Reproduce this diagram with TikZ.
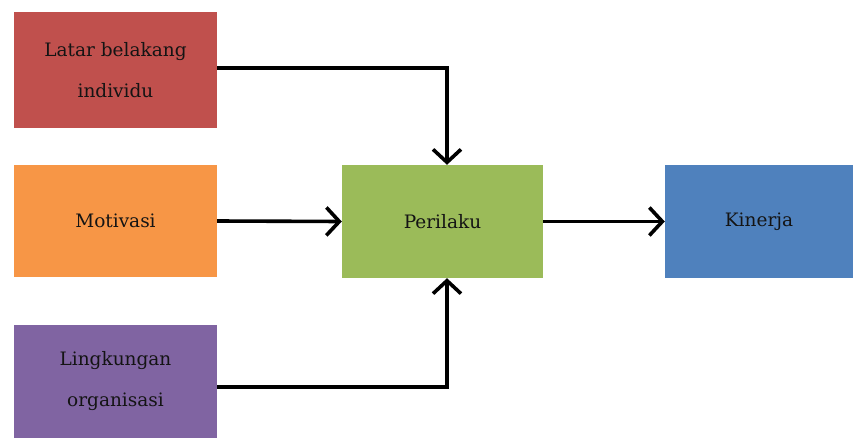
\documentclass[tikz,border=0pt]{standalone}
\usepackage{fontspec}
\setmainfont{DejaVu Serif}
\usetikzlibrary{arrows.meta}
\definecolor{cred}{HTML}{C0504D}
\definecolor{corange}{HTML}{F79646}
\definecolor{cpurple}{HTML}{8064A2}
\definecolor{cgreen}{HTML}{9BBB59}
\definecolor{cblue}{HTML}{4F81BD}
\definecolor{ctext}{HTML}{141414}
\begin{document}
\begin{tikzpicture}[x=1pt,y=-1pt,
  box/.style={rectangle, draw=none, minimum width=203pt, inner sep=0pt, align=center,
    text=ctext, font=\fontsize{18.5}{41}\selectfont},
  arr/.style={line width=3.6pt, -{Straight Barb[length=13pt,width=28pt,line width=3.6pt]}}]
\useasboundingbox (0,0) rectangle (857,439);
\node[box, fill=cred, minimum height=116pt] (lb) at (115.5,70) {Latar belakang\\individu};
\node[box, fill=corange, minimum height=112pt] (mot) at (115.5,221) {Motivasi};
\node[box, fill=cpurple, minimum height=113pt] (lo) at (115.5,381.5) {Lingkungan\\organisasi};
\node[box, fill=cgreen, minimum width=201pt, minimum height=113pt] (per) at (442.5,221.5) {Perilaku};
\node[box, fill=cblue, minimum width=188pt, minimum height=113pt] (kin) at (759,221.5) {Kinerja};
\draw[arr] ([yshift=2pt]lb.east) -| ([xshift=4.5pt]per.north);
\draw[arr] (mot.east) -- (per.west);
\draw[arr] ([yshift=-5.5pt]lo.east) -| ([xshift=4.5pt]per.south);
\draw[arr] (per.east) -- (kin.west);
\end{tikzpicture}
\end{document}
